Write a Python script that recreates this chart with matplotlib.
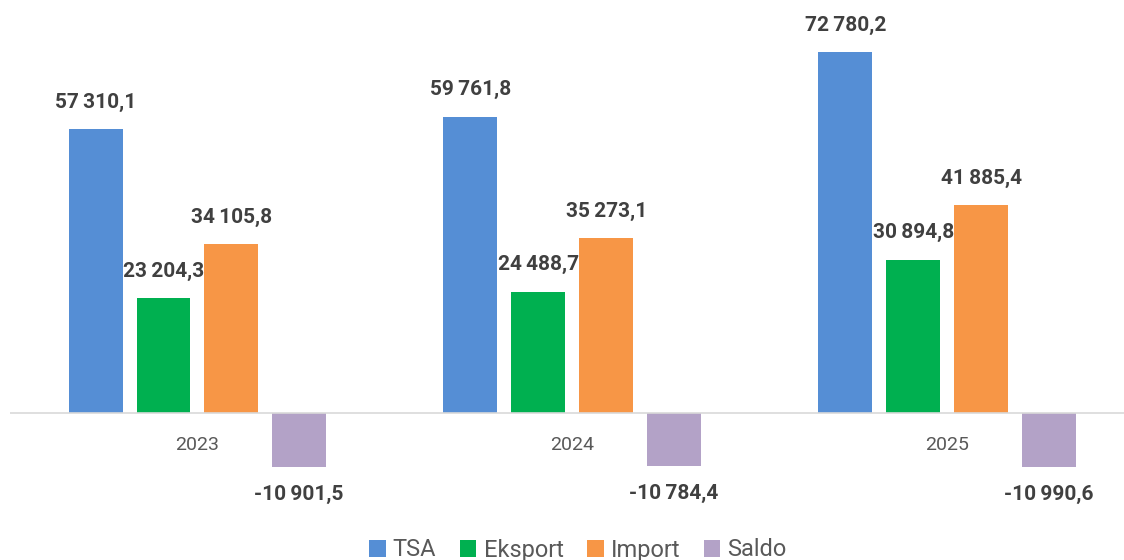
import matplotlib.pyplot as plt
import numpy as np

years = ['2023', '2024', '2025']
series = ['TSA', 'Eksport', 'Import', 'Saldo']
tsa = [57310.1, 59761.8, 72780.2]
eksport = [23204.3, 24488.7, 30894.8]
imp = [34105.8, 35273.1, 41885.4]
saldo = [-10901.5, -10784.4, -10990.6]
colors = ['#558ED5', '#00B050', '#F79646', '#B3A2C7']

plt.rcParams['font.family'] = ['Roboto', 'DejaVu Sans']


def fmt(v):
    s = f"{abs(v):,.1f}".replace(',', '\u2009').replace('.', ',')
    return ('-' if v < 0 else '') + s


fig = plt.figure(figsize=(11.24, 5.6), dpi=100)
ax = fig.add_axes([10 / 1124, 60 / 560, 1 - 10 / 1124, 500 / 560])

x = np.arange(len(years))
step = 0.181
width = 0.144
px = 4.955 / 1000  # pixels per unit of value
for i, (name, vals) in enumerate(zip(series, [tsa, eksport, imp, saldo])):
    pos = x + (i - 1.5) * step
    ax.bar(pos, vals, width, color=colors[i], label=name)
    for p, v in zip(pos, vals):
        off = 27 / px
        y = v + off if v > 0 else v - off
        ax.text(p, y, fmt(v), ha='center', va='center', fontsize=15,
                fontweight='bold', color='#404040')

ax.axhline(0, color='#D9D9D9', lw=1.2)
for xi, yr in zip(x, years):
    ax.text(xi, -32 / px, yr, ha='center', va='center',
            fontsize=14, color='#595959')

ax.set_xlim(-0.5, 2.472)
ax.set_ylim(-17560, 83350)
ax.axis('off')

fig.legend(loc='center', bbox_to_anchor=(578 / 1124, 1 - 550 / 560), ncol=4,
           frameon=False, fontsize=17, handlelength=0.7, handleheight=0.7,
           handletextpad=0.3, columnspacing=1.0, labelcolor='#595959')

fig.savefig('out.png', dpi=100)
